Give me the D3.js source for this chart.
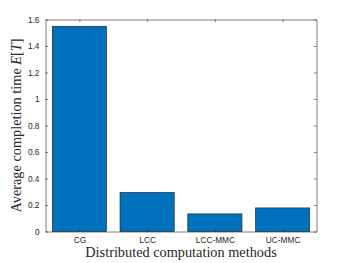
<!DOCTYPE html>
<html>
<head>
<meta charset="utf-8">
<script src="https://cdn.jsdelivr.net/npm/d3@7"></script>
<style>
body { margin: 0; background: #fff; }
.tick text { font-family: "Liberation Sans", Arial, sans-serif; font-size: 8.3px; fill: #262626; }
.label { font-family: "Liberation Serif", "DejaVu Serif", serif; font-size: 14.3px; fill: #262626; }
</style>
</head>
<body>
<script>
// chart data
const methods = ["CG", "LCC", "LCC-MMC", "UC-MMC"];
const times = [1.549, 0.295, 0.133, 0.178];
const yTicks = [0, 0.2, 0.4, 0.6, 0.8, 1, 1.2, 1.4, 1.6];

const W = 350, H = 263;
const mLeft = 45.5, mRight = 316.5, mTop = 19.5, mBottom = 231.5;

let svg = d3.select("body").append("svg")
	.attr("width", W)
	.attr("height", H);

let x = d3.scaleLinear().domain([0.5, 4.5]).range([mLeft, mRight]);
let y = d3.scaleLinear().domain([0, 1.6]).range([mBottom, mTop]);
let bw = (x(1) - x(0)) * 0.8;

//bars
svg.selectAll("rect.bar")
	.data(methods)
	.enter().append("rect")
	.attr("class", "bar")
	.attr("x", (d, i) => x(i + 1) - bw / 2)
	.attr("y", (d, i) => y(times[i]))
	.attr("width", bw)
	.attr("height", (d, i) => y(0) - y(times[i]))
	.attr("fill", "#0072BD")
	.attr("stroke", "#1a1a1a")
	.attr("stroke-width", 0.6);

//axes, ticks inward
let fmt = d => d === 0 || d === 1 ? String(d) : d3.format(".1f")(d);
svg.append("g").attr("transform", `translate(0,${mBottom})`)
	.call(d3.axisBottom(x).tickValues([1, 2, 3, 4]).tickFormat(d => methods[d - 1]).tickSizeInner(-2.5).tickSizeOuter(0).tickPadding(6));
svg.append("g").attr("transform", `translate(0,${mTop})`)
	.call(d3.axisTop(x).tickValues([1, 2, 3, 4]).tickFormat("").tickSizeInner(-2.5).tickSizeOuter(0));
svg.append("g").attr("transform", `translate(${mLeft},0)`)
	.call(d3.axisLeft(y).tickValues(yTicks).tickFormat(fmt).tickSizeInner(-2.5).tickSizeOuter(0).tickPadding(6));
svg.append("g").attr("transform", `translate(${mRight},0)`)
	.call(d3.axisRight(y).tickValues(yTicks).tickFormat("").tickSizeInner(-2.5).tickSizeOuter(0));

svg.selectAll(".domain, .tick line").attr("stroke", "#262626").attr("stroke-width", 0.6);
svg.selectAll(".tick text").attr("fill", "#262626");

//axis labels
svg.append("text")
	.classed("label", true)
	.attr("x", (mLeft + mRight) / 2)
	.attr("y", 257)
	.attr("text-anchor", "middle")
	.text("Distributed computation methods");

let yt = svg.append("text")
	.classed("label", true)
	.attr("transform", `translate(21,${(mTop + mBottom) / 2}) rotate(-90)`)
	.attr("text-anchor", "middle");
yt.append("tspan").text("Average completion time ");
yt.append("tspan").attr("font-style", "italic").text("E");
yt.append("tspan").text("[");
yt.append("tspan").attr("font-style", "italic").text("T");
yt.append("tspan").text("]");
</script>
</body>
</html>
